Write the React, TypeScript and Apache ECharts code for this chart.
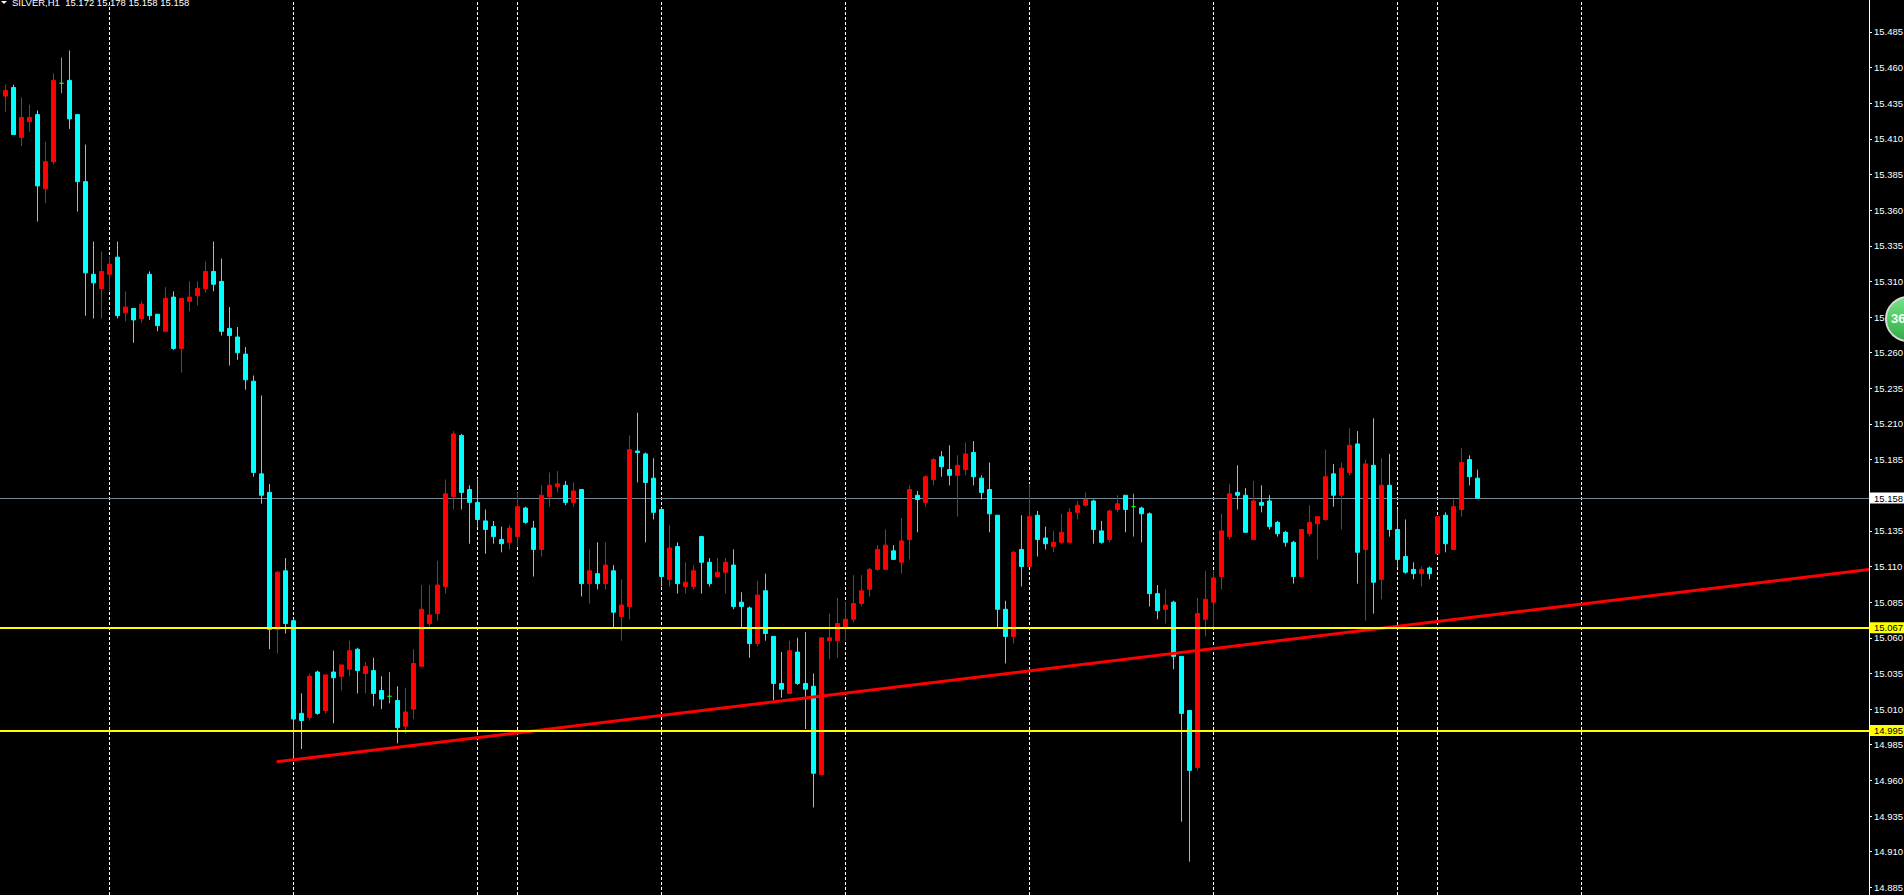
import React, { useEffect, useRef } from "react";
import * as echarts from "echarts";

const opens = [
  15.440,15.446,15.411,15.422,15.427,15.375,15.394,15.449,15.451,15.427,
  15.380,15.315,15.305,15.315,15.327,15.288,15.291,15.284,15.315,15.287,
  15.275,15.299,15.263,15.296,15.300,15.305,15.317,15.310,15.277,15.271,
  15.259,15.240,15.175,15.162,15.066,15.107,15.072,15.007,15.004,15.036,
  15.009,15.036,15.033,15.038,15.052,15.035,15.037,15.023,15.019,15.016,
  14.998,15.010,15.040,15.070,15.077,15.096,15.159,15.202,15.164,15.155,
  15.142,15.138,15.129,15.127,15.131,15.151,15.137,15.122,15.159,15.166,
  15.167,15.155,15.164,15.098,15.105,15.098,15.107,15.075,15.082,15.191,
  15.189,15.172,15.150,15.101,15.124,15.096,15.096,15.131,15.113,15.103,
  15.106,15.111,15.085,15.081,15.056,15.093,15.061,15.028,15.021,15.050,
  15.028,15.026,14.964,15.058,15.058,15.067,15.073,15.084,15.094,15.108,
  15.108,15.121,15.113,15.129,15.160,15.155,15.171,15.187,15.178,15.174,
  15.178,15.190,15.172,15.164,15.146,15.080,15.061,15.122,15.110,15.146,
  15.130,15.124,15.127,15.127,15.148,15.153,15.156,15.135,15.129,15.150,
  15.160,15.152,15.151,15.147,15.091,15.080,15.085,15.047,15.009,14.969,
  15.073,15.085,15.103,15.131,15.162,15.160,15.129,15.155,15.156,15.141,
  15.134,15.127,15.103,15.133,15.140,15.143,15.175,15.160,15.176,15.196,
  15.122,15.181,15.101,15.167,15.136,15.117,15.108,15.105,15.109,15.119,
  15.146,15.122,15.150,15.185,15.172,
];
const highs = [
  15.448,15.448,15.439,15.434,15.430,15.408,15.456,15.467,15.472,15.427,
  15.406,15.338,15.331,15.327,15.338,15.303,15.291,15.296,15.317,15.287,
  15.306,15.303,15.298,15.310,15.310,15.324,15.338,15.326,15.292,15.278,
  15.264,15.244,15.230,15.168,15.107,15.116,15.073,15.021,15.035,15.037,
  15.034,15.051,15.041,15.058,15.053,15.043,15.046,15.033,15.036,15.026,
  15.025,15.052,15.097,15.097,15.114,15.171,15.205,15.203,15.167,15.172,
  15.150,15.142,15.138,15.139,15.162,15.152,15.142,15.167,15.176,15.177,
  15.170,15.169,15.164,15.122,15.127,15.127,15.111,15.101,15.202,15.218,
  15.190,15.186,15.151,15.139,15.127,15.113,15.111,15.131,15.116,15.116,
  15.116,15.122,15.092,15.082,15.100,15.105,15.061,15.050,15.058,15.060,
  15.064,15.035,15.060,15.077,15.088,15.085,15.104,15.104,15.109,15.125,
  15.136,15.125,15.144,15.167,15.163,15.174,15.186,15.191,15.195,15.188,
  15.197,15.198,15.174,15.183,15.146,15.086,15.121,15.146,15.168,15.149,
  15.138,15.135,15.147,15.151,15.156,15.162,15.157,15.142,15.150,15.160,
  15.160,15.161,15.152,15.148,15.097,15.094,15.086,15.047,15.009,15.088,
  15.107,15.107,15.147,15.168,15.181,15.165,15.170,15.167,15.160,15.142,
  15.135,15.128,15.136,15.153,15.145,15.192,15.182,15.183,15.207,15.205,
  15.185,15.214,15.186,15.189,15.150,15.143,15.113,15.110,15.110,15.145,
  15.148,15.157,15.193,15.188,15.178,
];
const lows = [
  15.429,15.413,15.405,15.415,15.352,15.365,15.392,15.442,15.417,15.359,
  15.286,15.284,15.284,15.303,15.284,15.282,15.267,15.281,15.283,15.275,
  15.275,15.262,15.246,15.289,15.293,15.302,15.303,15.272,15.251,15.255,
  15.234,15.173,15.154,15.052,15.049,15.063,14.976,14.982,15.002,15.006,
  15.007,15.000,15.023,15.033,15.021,15.021,15.012,15.010,15.014,14.986,
  14.993,15.003,15.040,15.068,15.072,15.091,15.150,15.150,15.126,15.138,
  15.119,15.126,15.120,15.122,15.124,15.140,15.103,15.117,15.152,15.162,
  15.153,15.152,15.089,15.084,15.094,15.094,15.067,15.058,15.073,15.169,
  15.127,15.143,15.096,15.096,15.091,15.091,15.094,15.091,15.096,15.103,
  15.091,15.080,15.067,15.046,15.054,15.058,15.016,15.018,15.021,15.027,
  14.996,14.941,14.964,15.045,15.046,15.058,15.071,15.082,15.089,15.107,
  15.108,15.115,15.105,15.115,15.134,15.152,15.167,15.173,15.167,15.145,
  15.174,15.167,15.157,15.134,15.067,15.042,15.056,15.096,15.110,15.117,
  15.122,15.120,15.126,15.127,15.143,15.152,15.126,15.126,15.127,15.148,
  15.134,15.131,15.127,15.082,15.073,15.070,15.038,14.931,14.903,14.967,
  15.061,15.066,15.094,15.129,15.150,15.134,15.129,15.148,15.136,15.131,
  15.124,15.098,15.103,15.131,15.115,15.142,15.152,15.136,15.174,15.098,
  15.072,15.077,15.087,15.131,15.110,15.105,15.101,15.096,15.101,15.119,
  15.120,15.122,15.145,15.167,15.158,
];
const closes = [
  15.444,15.413,15.425,15.425,15.377,15.394,15.451,15.449,15.424,15.380,
  15.316,15.309,15.317,15.322,15.286,15.292,15.283,15.294,15.286,15.279,
  15.298,15.263,15.298,15.299,15.305,15.317,15.308,15.275,15.272,15.260,
  15.241,15.176,15.160,15.066,15.106,15.070,15.003,15.002,15.033,15.007,
  15.034,15.032,15.041,15.051,15.037,15.040,15.021,15.017,15.019,14.997,
  15.008,15.042,15.080,15.076,15.097,15.161,15.203,15.162,15.155,15.143,
  15.136,15.131,15.126,15.137,15.152,15.141,15.122,15.160,15.167,15.168,
  15.155,15.163,15.098,15.107,15.098,15.111,15.078,15.083,15.192,15.190,
  15.169,15.148,15.103,15.123,15.098,15.099,15.107,15.113,15.098,15.106,
  15.113,15.082,15.082,15.056,15.090,15.063,15.028,15.024,15.051,15.028,
  15.024,14.965,15.060,15.060,15.070,15.073,15.084,15.093,15.108,15.122,
  15.125,15.115,15.128,15.164,15.157,15.173,15.185,15.180,15.174,15.181,
  15.189,15.173,15.162,15.147,15.080,15.061,15.120,15.110,15.145,15.129,
  15.126,15.127,15.134,15.148,15.153,15.157,15.136,15.127,15.149,15.154,
  15.150,15.152,15.147,15.091,15.079,15.083,15.047,15.007,14.967,15.077,
  15.087,15.102,15.135,15.161,15.160,15.134,15.156,15.153,15.138,15.133,
  15.127,15.103,15.136,15.141,15.145,15.173,15.160,15.179,15.195,15.120,
  15.182,15.099,15.167,15.136,15.115,15.106,15.105,15.108,15.105,15.145,
  15.126,15.152,15.183,15.173,15.158,
];

// Bars on which MetaTrader's period separators fall.
const separatorBars = [13, 36, 59, 64, 82, 105, 128, 151, 174, 179, 197];
const tickPrices = [
  15.485, 15.46, 15.435, 15.41, 15.385, 15.36, 15.335, 15.31, 15.285, 15.26, 15.235, 15.21, 15.185,
  15.16, 15.135, 15.11, 15.085, 15.06, 15.035, 15.01, 14.985, 14.96, 14.935, 14.91, 14.885,
];
const bidPrice = 15.158;
const supportLevels = [15.067, 14.995];
const trendBars = [33.92, 232.96];
const trendPrices = [14.973, 15.108];
const headerText = "SILVER,H1  15.172 15.178 15.158 15.158";
const badgeText = "36";

const AXIS_FONT = '"Liberation Sans", sans-serif';
const AXIS_SIZE = 9.5;

const App = () => {
  const ref = useRef<HTMLDivElement>(null);

  useEffect(() => {
    const chart = echarts.init(ref.current!, undefined, { renderer: "svg" });
    const priceTag = (value: number, bg: string) => ({
      yAxis: value,
      label: {
        show: true,
        position: "end",
        distance: 1,
        formatter: value.toFixed(3),
        color: "#000",
        backgroundColor: bg,
        fontFamily: AXIS_FONT,
        fontSize: AXIS_SIZE,
        padding: [1, 1, 0, 4],
        lineHeight: 10,
      },
    });

    chart.setOption({
      animation: false,
      backgroundColor: "#000",
      title: {
        text: headerText,
        left: 12,
        top: -4,
        padding: 0,
        textStyle: { color: "#fff", fontFamily: AXIS_FONT, fontSize: AXIS_SIZE, fontWeight: "normal", lineHeight: 12 },
      },
      grid: { left: 0, top: 0, width: 1869, height: 895, containLabel: false, outerBoundsMode: "none" },
      xAxis: { type: "value", min: -0.6667, max: 232.96, show: false },
      yAxis: {
        type: "value",
        position: "right",
        min: 14.8796,
        max: 15.5074,
        splitLine: { show: false },
        axisLine: { show: true, onZero: false, lineStyle: { color: "#fff", width: 1 } },
        axisTick: { show: true, length: 3, customValues: tickPrices, lineStyle: { color: "#fff" } },
        axisLabel: {
          show: true,
          customValues: tickPrices,
          hideOverlap: false,
          margin: 5,
          color: "#fff",
          fontFamily: AXIS_FONT,
          fontSize: AXIS_SIZE,
          formatter: (v: number) => v.toFixed(3),
        },
      },
      series: [
        {
          name: "separators",
          type: "line",
          data: [],
          z: 1,
          clip: false,
          markLine: {
            silent: true,
            z: 1,
            symbol: "none",
            label: { show: false },
            lineStyle: { color: "#fff", type: [3, 2], width: 1 },
            data: separatorBars.map((b) => ({ xAxis: b })),
          },
        },
        {
          name: "bid",
          type: "line",
          data: [],
          z: 1,
          clip: false,
          markLine: {
            silent: true,
            z: 1,
            precision: 4,
            symbol: "none",
            lineStyle: { color: "#778899", type: "solid", width: 1 },
            data: [priceTag(bidPrice, "#fff")],
          },
        },
        {
          name: "SILVER,H1",
          type: "candlestick",
          z: 3,
          barWidth: 4,
          data: opens.map((o, i) => [i, o, closes[i], lows[i], highs[i]]),
          itemStyle: {
            color: "#ff0000",
            color0: "#00ffff",
            borderColor: "#ff0000",
            borderColor0: "#00ffff",
            borderColorDoji: "#00ff00",
            borderWidth: 1,
          },
        },
        {
          name: "trend",
          type: "line",
          z: 4,
          clip: false,
          showSymbol: false,
          silent: true,
          data: trendBars.map((b, i) => [b, trendPrices[i]]),
          lineStyle: { color: "#ff0000", width: 3 },
        },
        {
          name: "levels",
          type: "line",
          data: [],
          z: 5,
          clip: false,
          markLine: {
            silent: true,
            z: 8,
            precision: 4,
            symbol: "none",
            lineStyle: { color: "#ffff00", type: "solid", width: 2 },
            data: supportLevels.map((l) => priceTag(l, "#ffff00")),
          },
        },
      ],
      graphic: [
        {
          type: "polygon",
          z: 100,
          shape: { points: [[1, 1], [7, 1], [4, 4]] },
          style: { fill: "#fff" },
        },
        {
          type: "circle",
          z: 100,
          shape: { cx: 1908, cy: 319, r: 22 },
          style: {
            fill: new echarts.graphic.LinearGradient(0, 0, 0, 1, [
              { offset: 0, color: "#7ee08c" },
              { offset: 0.5, color: "#4ccc62" },
              { offset: 1, color: "#3aa84c" },
            ]),
            stroke: "#d8d8d8",
            lineWidth: 2,
          },
        },
        {
          type: "text",
          z: 101,
          x: 1891,
          y: 318,
          style: {
            text: badgeText,
            fill: "#fff",
            fontFamily: '"Liberation Sans", sans-serif',
            fontWeight: "bold",
            fontSize: 13,
            verticalAlign: "middle",
          },
        },
      ],
    });
    return () => chart.dispose();
  }, []);

  return (
    <div
      ref={ref}
      style={{ position: "fixed", left: 0, top: 0, width: 1904, height: 895, background: "#000" }}
    />
  );
};

export default App;
